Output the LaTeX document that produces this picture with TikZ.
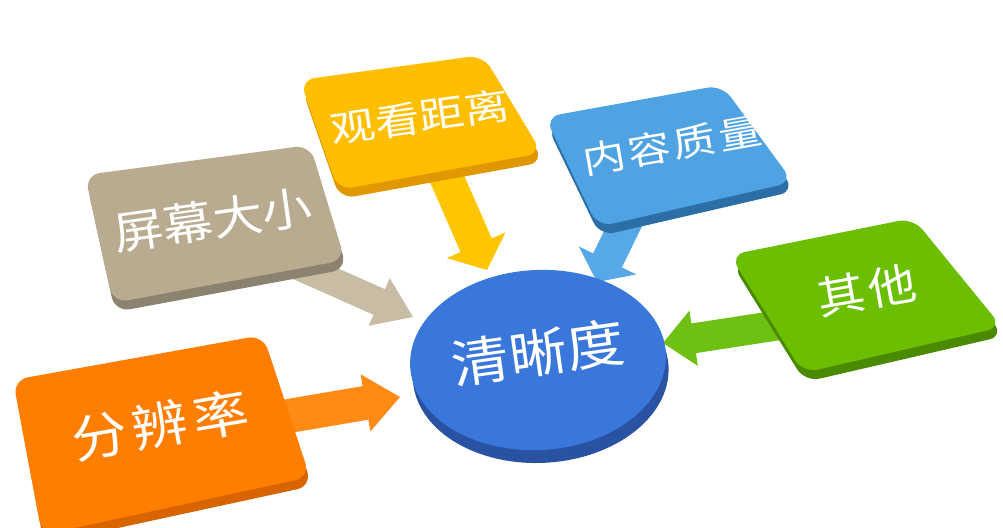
\documentclass[tikz,border=0pt]{standalone}
\usepackage{fontspec}
\newfontfamily\cjk{Noto Sans CJK SC}
\usetikzlibrary{calc}
\definecolor{oraT}{HTML}{FF7E00}
\definecolor{oraS}{HTML}{D86400}
\definecolor{oraA}{HTML}{FF8A14}
\definecolor{tanT}{HTML}{B8AB8F}
\definecolor{tanS}{HTML}{8C8270}
\definecolor{tanA}{HTML}{C8BCA4}
\definecolor{yelT}{HTML}{FFBF00}
\definecolor{yelS}{HTML}{E09800}
\definecolor{yelA}{HTML}{FFC600}
\definecolor{bluT}{HTML}{4FA3E3}
\definecolor{bluS}{HTML}{2C6EA6}
\definecolor{bluA}{HTML}{56A8E6}
\definecolor{grnT}{HTML}{6CBE00}
\definecolor{grnS}{HTML}{4A8A00}
\definecolor{grnA}{HTML}{6EC012}
\definecolor{cenT}{HTML}{3A77DB}
\definecolor{cenS}{HTML}{2A52A2}
\tikzset{
  sideface/.style={rounded corners=15pt},
  topface/.style={rounded corners=15pt},
  lbltext/.style={text=white, inner sep=0pt},
}
% fat arrow: colour, start, tip, half shaft width, head length, half head width
\newcommand\fatarrow[6]{%
  \coordinate (fa-h) at ($(#3)!#5!(#2)$);
  \fill[#1] ($(#2)!#4!90:(#3)$) -- ($(fa-h)!#4!90:(#3)$) -- ($(fa-h)!#6!90:(#3)$)
    -- (#3) -- ($(fa-h)!#6!-90:(#3)$) -- ($(fa-h)!#4!-90:(#3)$) -- ($(#2)!#4!-90:(#3)$) -- cycle;
}
% slab: top colour, side colour, four corners
\newcommand\slab[6]{%
  \fill[#2, sideface, shift={(2,9)}] (#3) -- (#4) -- (#5) -- (#6) -- cycle;
  \fill[#1, topface] (#3) -- (#4) -- (#5) -- (#6) -- cycle;
}
% label: name, position, rotation, font size, yscale, text
\newcommand\lbl[6]{%
  \node[lbltext, rotate=#3, yscale=#5, font=\cjk\fontsize{#4}{#4}\selectfont] (#1) at (#2) {#6};
}
\begin{document}
\begin{tikzpicture}[x=1pt, y=-1pt]
\useasboundingbox (0,0) rectangle (1003,527);
\clip (0,0) rectangle (1003,527);
% arrow end points
\coordinate (res-s) at (277,418);   \coordinate (res-t) at (400,397);
\coordinate (size-s) at (296,265);  \coordinate (size-t) at (413,317);
\coordinate (dist-s) at (445,174);  \coordinate (dist-t) at (487,270);
\coordinate (qual-s) at (636,202);  \coordinate (qual-t) at (597,282);
\coordinate (other-s) at (793,323); \coordinate (other-t) at (663,343);
% connectors
\fatarrow{oraA}{res-s}{res-t}{17pt}{35pt}{29pt}
\fatarrow{tanA}{size-s}{size-t}{14pt}{37pt}{26pt}
\fatarrow{yelA}{dist-s}{dist-t}{17pt}{27pt}{32pt}
\fatarrow{bluA}{qual-s}{qual-t}{16pt}{24pt}{32pt}
\fatarrow{grnA}{other-s}{other-t}{15pt}{31pt}{28pt}
% centre disc
\coordinate (cen) at (538,360);
\fill[cenS, rotate around={3:(cen)}] ([shift={(2,13)}]cen) ellipse [x radius=128pt, y radius=90pt];
\fill[cenT, rotate around={3:(cen)}] (cen) ellipse [x radius=128pt, y radius=90pt];
\lbl{clarity}{538,353}{8}{58}{0.9}{清晰度}
% slabs
\slab{tanT}{tanS}{85,175}{310,145}{345,260}{113,303}
\lbl{size}{213,220}{8}{50}{0.9}{屏幕大小}
\slab{yelT}{yelS}{300,80}{483,55}{542,153}{338,190}
\lbl{dist}{420,117}{8}{45}{0.82}{观看距离}
\slab{bluT}{bluS}{545,117}{722,85}{793,182}{598,227}
\lbl{qual}{672,145}{10}{43}{0.84}{\addfontfeature{LetterSpace=7}内容质量}
\slab{grnT}{grnS}{730,255}{913,218}{1002,327}{803,373}
\lbl{other}{867,290}{10}{48}{0.92}{\addfontfeature{LetterSpace=8}其他}
\slab{oraT}{oraS}{13,380}{263,335}{310,477}{42,535}
\lbl{res}{160,425}{10}{56}{0.9}{\addfontfeature{LetterSpace=10}分辨率}
\end{tikzpicture}
\end{document}
